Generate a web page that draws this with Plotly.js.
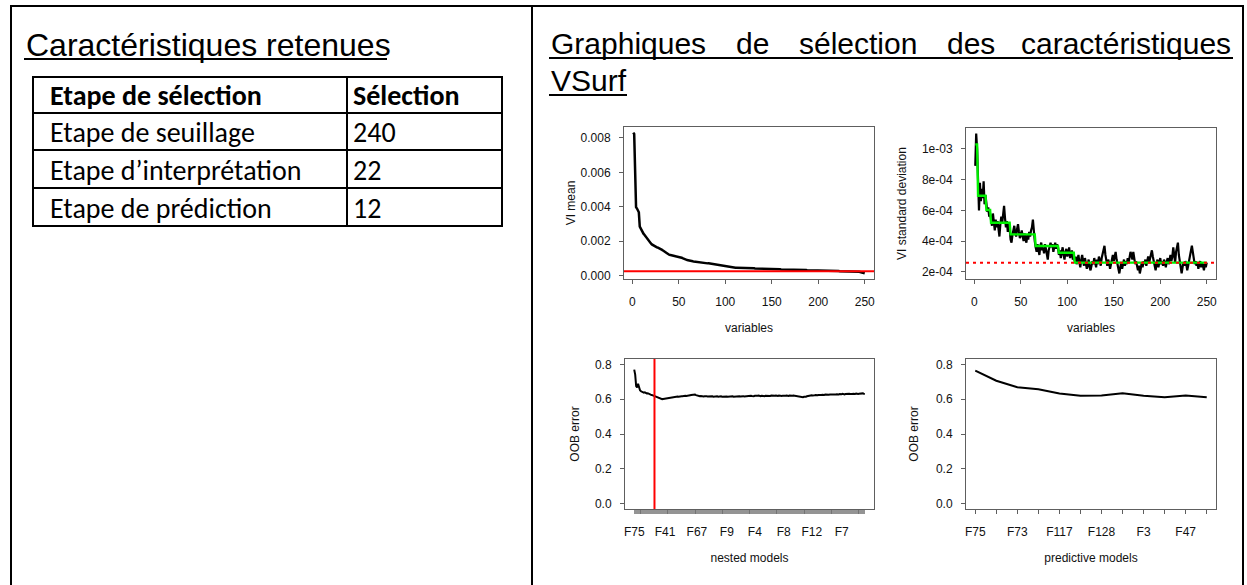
<!DOCTYPE html>
<html><head><meta charset="utf-8">
<script src="https://cdn.plot.ly/plotly-3.0.1.min.js"></script>
<style>html,body{margin:0;padding:0;background:#fff}#chart{width:1247px;height:585px}</style>
</head><body><div id="chart"></div>
<script>
// ---------------- DATA ----------------
const tableHeaders = ['Etape de sélection', 'Sélection'];
const stepNames = ['Etape de seuillage', 'Etape d’interprétation', 'Etape de prédiction'];
const stepCounts = [240, 22, 12];

// VI mean of each variable, sorted decreasing (thresholding step)
const viMean = [
.00830,.00822,.00610,.00398,.00390,.00380,.00368,.00285,.00272,.00265,
.00250,.00244,.00238,.00230,.00221,.00212,.00205,.00198,.00192,.00187,
.00182,.00178,.00174,.00171,.00168,.00166,.00164,.00162,.00160,.00157,
.00154,.00150,.00146,.00142,.00138,.00134,.00130,.00126,.00123,.00121,
.00120,.00119,.00118,.00117,.00116,.00115,.00114,.00113,.00112,.00111,
.00110,.00108,.00105,.00102,.00099,.00096,.00094,.00092,.00091,.00090,
.00088,.00087,.00086,.00085,.00084,.00083,.00082,.00081,.00080,.00079,
.00079,.00078,.00078,.00077,.00076,.00076,.00075,.00074,.00073,.00073,
.00072,.00072,.00071,.00070,.00069,.00069,.00068,.00067,.00066,.00065,
.00064,.00064,.00063,.00062,.00061,.00060,.00059,.00059,.00058,.00057,
.00056,.00055,.00054,.00053,.00052,.00051,.00050,.00049,.00048,.00048,
.00047,.00047,.00047,.00046,.00046,.00046,.00046,.00045,.00045,.00045,
.00045,.00044,.00044,.00044,.00044,.00044,.00043,.00043,.00043,.00043,
.00043,.00042,.00042,.00042,.00042,.00042,.00042,.00041,.00041,.00041,
.00041,.00041,.00040,.00040,.00040,.00040,.00040,.00040,.00039,.00039,
.00039,.00039,.00039,.00038,.00038,.00038,.00038,.00038,.00038,.00037,
.00037,.00037,.00037,.00037,.00036,.00036,.00036,.00036,.00036,.00035,
.00035,.00035,.00035,.00035,.00035,.00034,.00034,.00034,.00034,.00034,
.00034,.00033,.00033,.00033,.00033,.00033,.00033,.00032,.00032,.00032,
.00032,.00032,.00032,.00031,.00031,.00031,.00031,.00031,.00031,.00031,
.00030,.00030,.00030,.00030,.00030,.00030,.00030,.00029,.00029,.00029,
.00029,.00029,.00029,.00029,.00028,.00028,.00028,.00028,.00028,.00028,
.00028,.00028,.00027,.00027,.00027,.00027,.00027,.00027,.00027,.00027,
.000268,.000266,.000265,.000264,.000263,.000263,.000262,.000262,.000261,.000261,
.00025,.00024,.00024,.00023,.00022,.00021,.00019,.00016,.00015,.00014];

// VI standard deviation of each variable (same order)
const viSd = [
.00089,.00110,.00100,.00072,.00060,.00078,.00066,.00074,.00068,.00079,
.00064,.00070,.00061,.00059,.00062,.00056,.00058,.00055,.00050,.00058,
.00052,.00047,.00054,.00049,.00053,.00045,.00043,.00051,.00056,.00052,
.00057,.00063,.00055,.00049,.00053,.00046,.00051,.00048,.00041,.00039,
.00044,.00047,.00050,.00045,.00043,.00048,.00051,.00046,.00042,.00044,
.00047,.00043,.00040,.00045,.00042,.00039,.00044,.00041,.00046,.00043,
.00047,.00049,.00054,.00045,.00040,.00036,.00033,.00038,.00035,.00031,
.00037,.00039,.00034,.00036,.00032,.00038,.00035,.00030,.00028,.00034,
.00037,.00039,.00036,.00038,.00033,.00037,.00039,.00035,.00038,.00036,
.00031,.00034,.00029,.00033,.00036,.00031,.00028,.00033,.00035,.00030,
.00032,.00036,.00029,.00031,.00034,.00028,.00030,.00027,.00030,.00025,
.00029,.00031,.00026,.00023,.00028,.00031,.00027,.00024,.00029,.00026,
.00022,.00025,.00028,.00023,.00021,.00024,.00027,.00025,.00029,.00026,
.00023,.00028,.00025,.00030,.00027,.00024,.00029,.00032,.00034,.00037,
.00031,.00027,.00024,.00028,.00026,.00022,.00025,.00029,.00031,.00027,
.00030,.00033,.00028,.00024,.00021,.00019,.00023,.00026,.00022,.00025,
.00028,.00024,.00027,.00025,.00029,.00026,.00030,.00033,.00031,.00028,
.00033,.00029,.00025,.00027,.00023,.00021,.00024,.00019,.00022,.00026,
.00023,.00027,.00025,.00028,.00024,.00027,.00030,.00026,.00029,.00031,
.00034,.00030,.00027,.00024,.00021,.00025,.00028,.00023,.00026,.00029,
.00025,.00027,.00024,.00028,.00026,.00023,.00027,.00029,.00025,.00028,
.00031,.00027,.00030,.00036,.00029,.00026,.00033,.00037,.00039,.00031,
.00026,.00022,.00019,.00023,.00026,.00024,.00027,.00025,.00021,.00024,
.00027,.00029,.00032,.00037,.00033,.00028,.00025,.00027,.00024,.00026,
.00022,.00025,.00027,.00023,.00026,.00024,.00021,.00025,.00023,.00026];

// CART fit of the VI standard deviations (piecewise constant)
const cartStarts = [1, 4, 13, 18, 39, 66, 91, 108];
const cartLevels = [0.00103, 0.000695, 0.000603, 0.00052, 0.000444, 0.000368, 0.000324, 0.00026];

// OOB error of nested models (interpretation step)
const nestedOob = [
.771,.742,.676,.668,.689,.661,.652,.646,.643,.640,
.638,.640,.636,.634,.635,.631,.629,.627,.625,.623,
.621,.619,.617,.614,.611,.608,.605,.603,.602,.601,
.602,.603,.605,.607,.606,.608,.610,.609,.611,.610,
.612,.611,.613,.615,.614,.616,.615,.617,.616,.618,
.617,.619,.618,.620,.619,.621,.620,.622,.623,.624,
.625,.623,.626,.627,.624,.622,.620,.619,.618,.619,
.617,.618,.616,.617,.619,.618,.616,.617,.615,.616,
.618,.617,.615,.616,.614,.616,.617,.615,.616,.618,
.617,.615,.616,.614,.615,.617,.616,.614,.615,.617,
.616,.618,.617,.615,.616,.617,.615,.616,.618,.617,
.616,.617,.619,.618,.616,.617,.618,.616,.617,.619,
.618,.620,.619,.617,.618,.620,.619,.618,.620,.621,
.619,.618,.620,.619,.617,.618,.620,.619,.621,.620,
.618,.619,.621,.620,.618,.619,.620,.622,.620,.619,
.621,.620,.618,.619,.621,.620,.619,.621,.622,.620,
.619,.621,.620,.619,.620,.622,.621,.619,.620,.618,
.617,.615,.613,.612,.611,.612,.614,.613,.615,.617,
.619,.620,.622,.621,.623,.622,.621,.623,.624,.622,
.623,.625,.624,.623,.625,.626,.624,.625,.627,.626,
.625,.627,.626,.628,.627,.625,.627,.628,.626,.628,
.629,.627,.628,.630,.628,.629,.631,.629,.628,.630,
.631,.629,.630,.632,.630,.629,.631,.632,.630,.631,
.633,.631,.630,.632,.633,.631,.632,.634,.632,.631];
const nestedLabelPos = [1, 33, 66, 97, 126, 156, 185, 216];
const nestedLabels = ['F75', 'F41', 'F67', 'F9', 'F4', 'F8', 'F12', 'F7'];

// OOB error of predictive models (prediction step)
const predOob = [0.765, 0.707, 0.669, 0.658, 0.633, 0.620, 0.622, 0.635, 0.620, 0.612, 0.622, 0.612];
const predLabels = ['F75', '', 'F73', '', 'F117', '', 'F128', '', 'F3', '', 'F47', ''];

// ---------------- BUILD ----------------
const W = 1247, H = 585;
const px = x => x / W;
const py = y => 1 - y / H;
const seq = n => Array.from({length: n}, (_, i) => i + 1);
const rRange = (lo, hi) => { const d = hi - lo; return [lo - 0.04 * d, hi + 0.04 * d]; };

const vars = seq(viMean.length);
const cartPred = vars.map(v => { let k = 0; cartStarts.forEach((s, i) => { if (v >= s) k = i; }); return cartLevels[k]; });
const threshold = Math.min(...cartLevels);
const nestedX = seq(nestedOob.length);
const nestedText = nestedX.map(v => { const i = nestedLabelPos.indexOf(v); return i >= 0 ? nestedLabels[i] : ''; });
const predX = seq(predOob.length);
const nbInterp = stepCounts[1];

const RF = 'Liberation Sans, Arial, sans-serif';
const CF = 'Carlito, Calibri, Lato, sans-serif';
const TXT = '#111';
const baseAx = {
  showline: true, mirror: true, linecolor: '#5e5e5e', linewidth: 1,
  ticks: 'outside', ticklen: 4, tickwidth: 1, tickcolor: '#5e5e5e',
  showgrid: false, zeroline: false, fixedrange: true,
  tickfont: {family: RF, size: 12, color: TXT}
};
const ax = (o) => Object.assign({}, baseAx, o);
const ttl = (t, s) => ({text: t, font: {family: RF, size: 12, color: TXT}, standoff: s});

const traces = [
  {type: 'scatter', mode: 'lines', x: vars, y: viMean, xaxis: 'x', yaxis: 'y',
   line: {color: '#000', width: 2.5}, hoverinfo: 'skip'},
  {type: 'scatter', mode: 'lines', x: vars, y: viSd, xaxis: 'x2', yaxis: 'y2',
   line: {color: '#000', width: 2.2}, hoverinfo: 'skip'},
  {type: 'scatter', mode: 'lines', x: vars, y: cartPred, xaxis: 'x2', yaxis: 'y2',
   line: {color: '#00f000', width: 2.4}, hoverinfo: 'skip'},
  {type: 'scatter', mode: 'lines', x: nestedX, y: nestedOob, xaxis: 'x3', yaxis: 'y3',
   line: {color: '#000', width: 2}, hoverinfo: 'skip'},
  {type: 'scatter', mode: 'lines', x: predX, y: predOob, xaxis: 'x4', yaxis: 'y4',
   line: {color: '#000', width: 2}, hoverinfo: 'skip'}
];

// ---- table (grid + text) ----
const rowEdges = [77, 113, 150, 188, 226];
const colEdges = [33, 347, 502];
const colTextX = [48, 351];
const tableRows = [tableHeaders].concat(stepNames.map((n, i) => [n, String(stepCounts[i])]));
const shapes = [];
const annotations = [];
tableRows.forEach((row, r) => {
  row.forEach((txt, c) => {
    shapes.push({type: 'rect', xref: 'paper', yref: 'paper',
      x0: px(colEdges[c]), x1: px(colEdges[c + 1]), y0: py(rowEdges[r + 1]), y1: py(rowEdges[r]),
      line: {color: '#000', width: 2}, fillcolor: 'rgba(0,0,0,0)'});
    annotations.push({text: r === 0 ? '<b>' + txt + '</b>' : txt,
      x: px(colTextX[c]), y: py((rowEdges[r] + rowEdges[r + 1]) / 2 + 1), xref: 'paper', yref: 'paper',
      xanchor: 'left', yanchor: 'middle', showarrow: false,
      font: {family: CF, size: 28, color: '#000'}});
  });
});

const titleFont = {family: RF, size: 30, color: '#000'};
const addText = (t, x, y, xa, size) => annotations.push({text: t, x: px(x), y: py(y), xref: 'paper', yref: 'paper',
  xanchor: xa, yanchor: 'middle', showarrow: false, font: Object.assign({}, titleFont, {size: size || 30})});
addText('Caractéristiques retenues', 24, 45, 'left', 32);
// justified first line of the right-hand title
addText('Graphiques', 549, 44, 'left');
addText('de', 734, 44, 'left');
addText('sélection', 797, 44, 'left');
addText('des', 945, 44, 'left');
addText('caractéristiques', 1233, 44, 'right');
addText('VSurf', 549, 81, 'left');

const line = (x0, y0, x1, y1) => ({type: 'line', xref: 'paper', yref: 'paper', x0: px(x0), x1: px(x1), y0: py(y0), y1: py(y1), line: {color: '#000', width: 2}});
shapes.push(
  // threshold lines
  {type: 'line', xref: 'x domain', x0: 0, x1: 1, yref: 'y', y0: threshold, y1: threshold, line: {color: '#ff0000', width: 2}},
  {type: 'line', xref: 'x2 domain', x0: 0, x1: 1, yref: 'y2', y0: threshold, y1: threshold, line: {color: '#ff0000', width: 2, dash: '3px,4px'}},
  {type: 'line', xref: 'x3', x0: nbInterp, x1: nbInterp, yref: 'y3 domain', y0: 0, y1: 1, line: {color: '#ff0000', width: 2}},
  // page frame
  line(10, 6, 1244, 6), line(11, 6, 11, 585), line(532, 6, 532, 585), line(1243, 6, 1243, 585),
  // title underlines
  line(24, 59, 387, 59), line(549, 58, 1233, 58), line(549, 95, 627, 95)
);

const allSd = viSd.concat(cartLevels);
const layout = {
  width: W, height: H, margin: {l: 0, r: 0, t: 0, b: 0},
  paper_bgcolor: '#fff', plot_bgcolor: '#fff', showlegend: false,
  xaxis: ax({domain: [px(624), px(874)], anchor: 'y', range: rRange(1, vars.length),
             tickvals: [0, 50, 100, 150, 200, 250], ticklabelstandoff: 8, title: ttl('variables', 15)}),
  yaxis: ax({domain: [py(279), py(127)], anchor: 'x', range: rRange(Math.min(...viMean), Math.max(...viMean)),
             tickvals: [0, 0.002, 0.004, 0.006, 0.008], tickformat: '.3f', ticklabelstandoff: 6, title: ttl('VI mean', 2)}),
  xaxis2: ax({domain: [px(966), px(1216)], anchor: 'y2', range: rRange(1, vars.length),
             tickvals: [0, 50, 100, 150, 200, 250], ticklabelstandoff: 8, title: ttl('variables', 15)}),
  yaxis2: ax({domain: [py(279), py(128)], anchor: 'x2', range: rRange(Math.min(...allSd), Math.max(...allSd)),
             tickvals: [0.0002, 0.0004, 0.0006, 0.0008, 0.001], ticktext: ['2e-04', '4e-04', '6e-04', '8e-04', '1e-03'],
             ticklabelstandoff: 6, title: ttl('VI standard deviation', 12)}),
  xaxis3: ax({domain: [px(625), px(874)], anchor: 'y3', range: rRange(1, nestedX.length),
             tickvals: nestedX, ticktext: nestedText, tickcolor: '#666', tickwidth: 0.7, ticklabelstandoff: 8, title: ttl('nested models', 15)}),
  yaxis3: ax({domain: [py(509), py(359)], anchor: 'x3', range: rRange(0, 0.8),
             tickvals: [0, 0.2, 0.4, 0.6, 0.8], tickformat: '.1f', ticklabelstandoff: 6, title: ttl('OOB error', 12)}),
  xaxis4: ax({domain: [px(966), px(1216)], anchor: 'y4', range: rRange(1, predX.length),
             tickvals: predX, ticktext: predLabels, ticklabelstandoff: 8, title: ttl('predictive models', 15)}),
  yaxis4: ax({domain: [py(509), py(359)], anchor: 'x4', range: rRange(0, 0.8),
             tickvals: [0, 0.2, 0.4, 0.6, 0.8], tickformat: '.1f', ticklabelstandoff: 6, title: ttl('OOB error', 14)}),
  shapes: shapes,
  annotations: annotations
};

Plotly.newPlot('chart', traces, layout, {staticPlot: true, displayModeBar: false});
</script></body></html>
